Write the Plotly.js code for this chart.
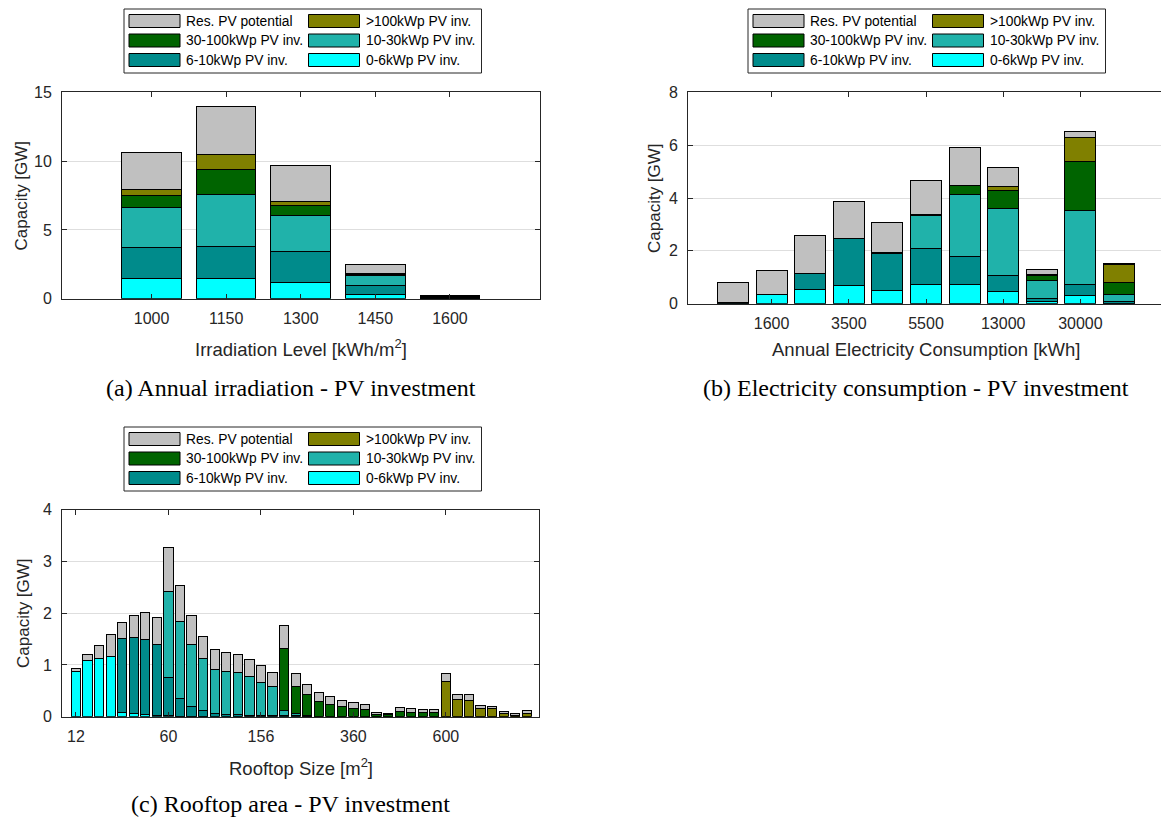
<!DOCTYPE html>
<html>
<head>
<meta charset="utf-8">
<script src="https://cdn.plot.ly/plotly-3.0.1.min.js"></script>
<style>html,body{margin:0;padding:0;background:#fff;}#chart{width:1161px;height:818px;}</style>
</head>
<body>
<div id="chart"></div>
<script>
// ---------- data ----------
const seriesNames = ['0-6kWp PV inv.', '6-10kWp PV inv.', '10-30kWp PV inv.', '30-100kWp PV inv.', '>100kWp PV inv.', 'Res. PV potential'];
const seriesColors = ['#00FFFF', '#008B8B', '#20B2AA', '#006400', '#808000', '#C0C0C0'];

// (a) annual irradiation
const irradLabels = ['1000', '1150', '1300', '1450', '1600'];
const irr_pv0_6   = [1.50, 1.50, 1.21, 0.34, 0.02];
const irr_pv6_10  = [2.24, 2.31, 2.19, 0.63, 0.03];
const irr_pv10_30 = [2.86, 3.74, 2.64, 0.70, 0.05];
const irr_pv30_100= [0.88, 1.82, 0.73, 0.12, 0.04];
const irr_pv100   = [0.43, 1.09, 0.32, 0.05, 0.03];
const irr_res     = [2.75, 3.50, 2.57, 0.66, 0.05];

// (b) electricity consumption (11 classes, every other one labelled)
const consLabels = ['', '1600', '', '3500', '', '5500', '', '13000', '', '30000', ''];
const cons_pv0_6   = [0.01, 0.33, 0.52, 0.68, 0.50, 0.73, 0.71, 0.47, 0.07, 0.32, 0.01];
const cons_pv6_10  = [0.05, 0.02, 0.64, 1.77, 1.39, 1.35, 1.07, 0.60, 0.12, 0.39, 0.07];
const cons_pv10_30 = [0.00, 0.00, 0.00, 0.02, 0.02, 1.27, 2.36, 2.53, 0.68, 2.83, 0.27];
const cons_pv30_100= [0.00, 0.00, 0.00, 0.01, 0.01, 0.03, 0.35, 0.68, 0.18, 1.86, 0.45];
const cons_pv100   = [0.00, 0.00, 0.00, 0.00, 0.00, 0.00, 0.00, 0.15, 0.05, 0.89, 0.69];
const cons_res     = [0.75, 0.91, 1.42, 1.40, 1.16, 1.29, 1.43, 0.71, 0.20, 0.24, 0.04];

// (c) rooftop area (40 classes, labelled every 8th)
const roofLabels = ['12','','','','','','','','60','','','','','','','','156','','','','','','','','360','','','','','','','','600','','','','','','',''];
const roof_pv0_6   = [0.88,1.08,1.12,1.17,0.08,0.07,0.05,0.02,0.02,0.01,0.01,0.01,0,0,0,0,0,0,0,0,0,0,0,0,0,0,0,0,0,0,0,0,0,0,0,0,0,0,0,0];
const roof_pv6_10  = [0,0,0,0,1.44,1.47,1.45,1.37,0.73,0.35,0.19,0.11,0.07,0.05,0.04,0.03,0.02,0.02,0.03,0.02,0.01,0,0,0,0,0,0,0,0,0,0,0,0,0,0,0,0,0,0,0];
const roof_pv10_30 = [0,0,0,0,0,0,0,0,1.67,1.48,1.20,1.00,0.84,0.82,0.81,0.74,0.64,0.56,0.09,0.04,0.01,0,0,0,0,0,0,0,0,0,0,0,0,0,0,0,0,0,0,0];
const roof_pv30_100= [0,0,0,0,0,0,0,0,0,0,0,0,0,0,0,0,0,0,1.20,0.52,0.40,0.30,0.24,0.20,0.16,0.14,0.05,0.04,0.11,0.08,0.08,0.08,0,0,0,0,0,0,0,0];
const roof_pv100   = [0,0,0,0,0,0,0,0,0,0,0,0,0,0,0,0,0,0,0,0,0,0,0,0,0,0,0,0,0,0,0,0,0.68,0.33,0.32,0.15,0.15,0.06,0.03,0.06];
const roof_res     = [0.06,0.13,0.26,0.42,0.30,0.42,0.52,0.53,0.85,0.69,0.55,0.43,0.38,0.37,0.36,0.33,0.32,0.28,0.44,0.25,0.21,0.17,0.15,0.11,0.11,0.09,0.03,0.02,0.07,0.07,0.06,0.05,0.16,0.09,0.10,0.06,0.04,0.04,0.03,0.06];

// ---------- build ----------
const W = 1161, H = 818;
const fx = p => p / W;
const fy = p => 1 - p / H;
const FONT = 'Liberation Sans, Arial, Helvetica, sans-serif';
const SERIF = 'Liberation Serif, Times New Roman, serif';
const AX = '#262626';

function panelTraces(labels, series, xa, ya) {
  const xs = labels.map((_, i) => i + 1);
  return series.map((vals, k) => ({
    type: 'bar', x: xs, y: vals, xaxis: xa, yaxis: ya,
    name: seriesNames[k], showlegend: false, width: 0.8,
    marker: {color: seriesColors[k], line: {color: '#000', width: 1}},
    hoverinfo: 'skip'
  }));
}

const data = [].concat(
  panelTraces(irradLabels, [irr_pv0_6, irr_pv6_10, irr_pv10_30, irr_pv30_100, irr_pv100, irr_res], 'x', 'y'),
  panelTraces(consLabels, [cons_pv0_6, cons_pv6_10, cons_pv10_30, cons_pv30_100, cons_pv100, cons_res], 'x2', 'y2'),
  panelTraces(roofLabels, [roof_pv0_6, roof_pv6_10, roof_pv10_30, roof_pv30_100, roof_pv100, roof_res], 'x3', 'y3')
);

function tickSet(labels) {
  const vals = [], txt = [];
  labels.forEach((l, i) => { if (l !== '') { vals.push(i + 1); txt.push(l); } });
  return {tickvals: vals, ticktext: txt};
}

function xAxis(domain, range, labels, anchor) {
  const t = tickSet(labels);
  return Object.assign({
    domain: domain, range: range, anchor: anchor, tickmode: 'array',
    showline: true, linecolor: AX, linewidth: 1, mirror: 'ticks',
    ticks: 'inside', ticklen: 5, tickcolor: AX, tickwidth: 1,
    showgrid: false, zeroline: false, fixedrange: true,
    tickfont: {family: FONT, size: 16, color: AX}, ticklabelstandoff: 5
  }, t);
}
function yAxis(domain, range, dtick, anchor, mirror) {
  return {
    domain: domain, range: range, anchor: anchor, tickmode: 'linear', tick0: 0, dtick: dtick,
    showline: true, linecolor: AX, linewidth: 1, mirror: mirror,
    ticks: 'inside', ticklen: 5, tickcolor: AX, tickwidth: 1,
    showgrid: true, gridcolor: '#dedede', gridwidth: 1, zeroline: false, fixedrange: true,
    tickfont: {family: FONT, size: 16, color: AX}, ticklabelstandoff: 6
  };
}

const layout = {
  width: W, height: H, margin: {l: 0, r: 0, t: 0, b: 0},
  paper_bgcolor: '#fff', plot_bgcolor: '#fff',
  barmode: 'stack', showlegend: false, hovermode: false,
  xaxis:  xAxis([fx(62), fx(539.5)], [-0.2, 6.2], irradLabels, 'y'),
  yaxis:  yAxis([fy(298.7), fy(92.3)], [0, 15], 5, 'x', 'ticks'),
  xaxis2: xAxis([fx(688), 1], [-0.166, 12.088], consLabels, 'y2'),
  yaxis2: yAxis([fy(303.7), fy(92.3)], [0, 8], 2, 'x2', false),
  xaxis3: xAxis([fx(62), fx(539.3)], [-0.21, 41.08], roofLabels, 'y3'),
  yaxis3: yAxis([fy(716.7), fy(509.7)], [0, 4], 1, 'x3', 'ticks'),
  shapes: [], annotations: []
};

function txt(text, x, y, size, opts) {
  layout.annotations.push(Object.assign({
    text: text, x: fx(x), y: fy(y), xref: 'paper', yref: 'paper',
    showarrow: false, xanchor: 'center', yanchor: 'middle',
    font: {family: FONT, size: size, color: AX}
  }, opts || {}));
}

// axis titles
txt('Capacity [GW]', 21, 195.5, 17, {textangle: -90});
txt('Irradiation Level [kWh/m<sup>2</sup>]', 301, 348, 18.5);
txt('Capacity [GW]', 655, 198, 17, {textangle: -90});
txt('Annual Electricity Consumption [kWh]', 926, 350, 18.5);
txt('Capacity [GW]', 23, 613, 17, {textangle: -90});
txt('Rooftop Size [m<sup>2</sup>]', 301, 767, 18.5);

// captions
const capFont = {family: SERIF, size: 24, color: '#000'};
txt('(a) Annual irradiation - PV investment', 291, 388, 24, {font: capFont});
txt('(b) Electricity consumption - PV investment', 916, 388, 24, {font: capFont});
txt('(c) Rooftop area - PV investment', 290, 804, 24, {font: capFont});

// legends (drawn as boxes, swatches and text)
const legendOrder = [5, 4, 3, 2, 1, 0]; // row-major, two columns
function legend(dx, dy) {
  layout.shapes.push({type: 'rect', xref: 'paper', yref: 'paper',
    x0: fx(124 + dx), x1: fx(481.5 + dx), y0: fy(9 + dy), y1: fy(73 + dy),
    line: {color: AX, width: 1}, fillcolor: '#fff'});
  legendOrder.forEach((k, i) => {
    const row = Math.floor(i / 2), col = i % 2;
    const cy = 21 + row * 19.5 + dy;
    const sx = (col === 0 ? 129 : 308.5) + dx;
    layout.shapes.push({type: 'rect', xref: 'paper', yref: 'paper',
      x0: fx(sx), x1: fx(sx + 51), y0: fy(cy + 6.5), y1: fy(cy - 6.5),
      line: {color: '#000', width: 1}, fillcolor: seriesColors[k]});
    txt(seriesNames[k], sx + 55, cy, 13.8, {xanchor: 'left', font: {family: FONT, size: 13.8, color: '#000'}});
  });
}
legend(0, 0);
legend(624, 0);
legend(0, 418);

Plotly.newPlot('chart', data, layout, {staticPlot: true, displayModeBar: false});
</script>
</body>
</html>
